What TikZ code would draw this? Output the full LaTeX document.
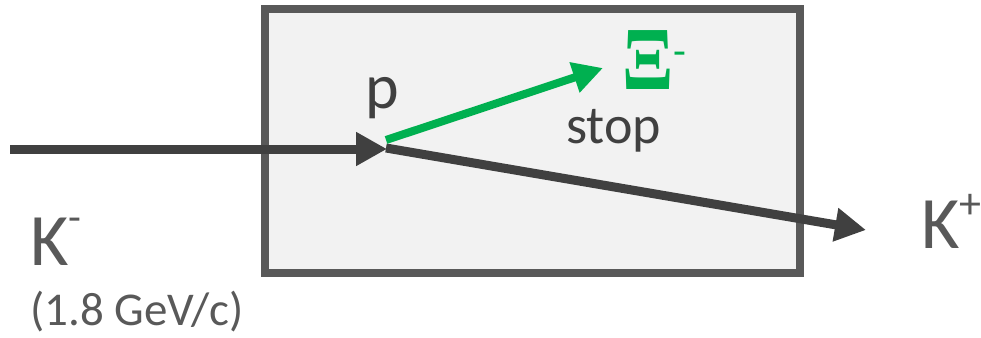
\documentclass[tikz,border=0pt]{standalone}
\usepackage{fontspec}
\setmainfont{Carlito}
\newfontfamily\xifont{Liberation Serif}
\usetikzlibrary{arrows.meta}
\definecolor{boxline}{HTML}{595959}
\definecolor{boxfill}{HTML}{F2F2F2}
\definecolor{dark}{HTML}{404040}
\definecolor{txt}{HTML}{595959}
\definecolor{grn}{HTML}{00B050}
\begin{document}
\begin{tikzpicture}[x=1pt,y=-1pt,
  track/.style={draw=dark,line width=9pt,-{Triangle[length=31pt,width=32pt]}},
  gtrack/.style={draw=grn,line width=8pt,-{Triangle[length=30pt,width=30pt]}},
  lbl/.style={inner sep=0pt,anchor=base west}]
\useasboundingbox (0,0) rectangle (981,337);
\draw[boxline,fill=boxfill,line width=7.5pt] (265,9) rectangle (800,273);
\coordinate (src) at (10,149);
\coordinate (v) at (387,149);
\coordinate (vg) at (386,140);
\coordinate (vk) at (386,148);
\coordinate (xi) at (603,68);
\coordinate (kp) at (866,230);
\draw[track] (src) -- (v);
\draw[track] (vk) -- (kp);
\draw[gtrack] (vg) -- (xi);
\node[lbl,text=dark,font=\fontsize{64}{64}\selectfont] (p) at (365,108) {p};
\node[lbl,text=dark,font=\fontsize{54}{54}\selectfont] (stop) at (566,143) {stop};
\node[lbl,text=grn,font=\xifont\bfseries\fontsize{72}{72}\selectfont] (Xi) at (622,89) {\scalebox{1.05}[1.25]{Ξ}};
\node[lbl,text=grn,font=\fontsize{42}{42}\selectfont] (Xim) at (673,66) {-};
\node[lbl,text=txt,font=\fontsize{74}{74}\selectfont] (Km) at (30,265) {K\raisebox{0.45em}{\fontsize{42}{42}\selectfont -}};
\node[lbl,text=txt,font=\fontsize{47}{47}\selectfont] (mom) at (30,325) {(1.8 GeV/c)};
\node[lbl,text=txt,font=\fontsize{74}{74}\selectfont] (Kp) at (921,248) {K\raisebox{0.4em}{\fontsize{44}{44}\selectfont +}};
\end{tikzpicture}
\end{document}
